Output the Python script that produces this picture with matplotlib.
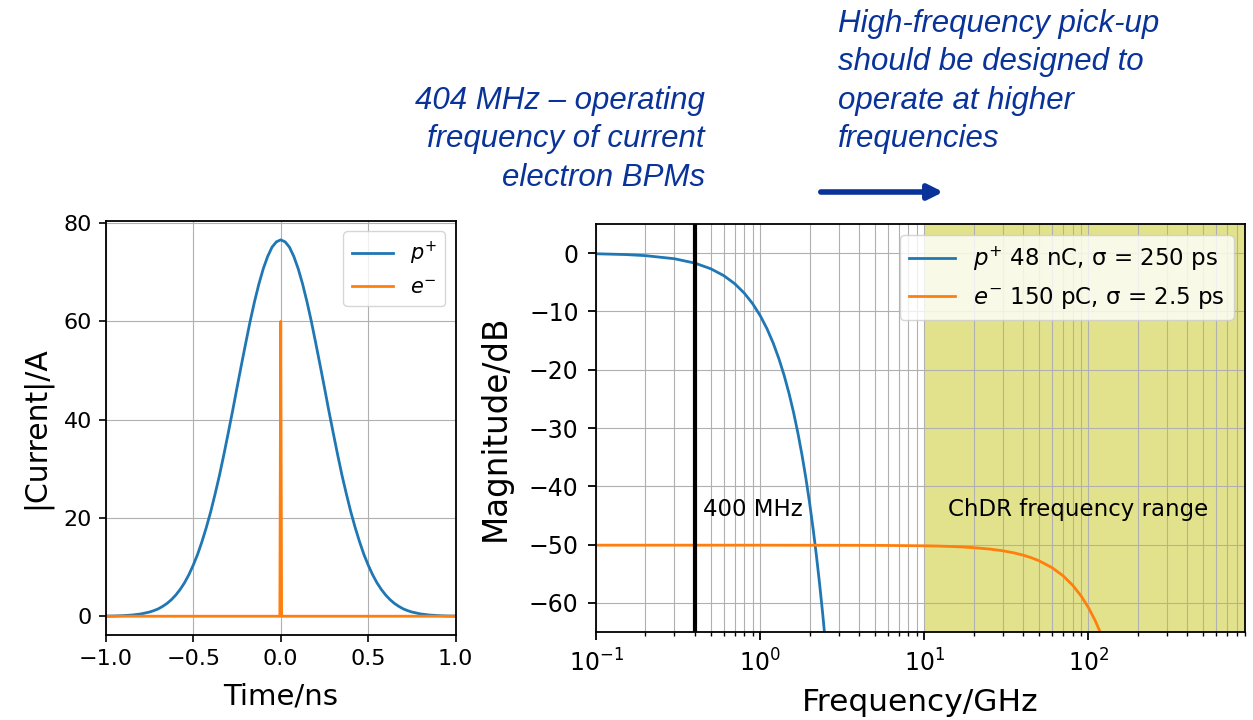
import matplotlib.pyplot as plt
from matplotlib.patches import FancyArrowPatch

# Pulso no tempo (ns) -> corrente (A)
tempo = [-1.0, -0.95, -0.9, -0.85, -0.8, -0.75,
         -0.725, -0.7, -0.675, -0.65, -0.625, -0.6, -0.575, -0.55, -0.525, -0.5,
         -0.475, -0.45, -0.425, -0.4, -0.375, -0.35, -0.325, -0.3, -0.275, -0.25,
         -0.225, -0.2, -0.175, -0.15, -0.125, -0.1, -0.075, -0.05, -0.025, 0.0,
         0.025, 0.05, 0.075, 0.1, 0.125, 0.15, 0.175, 0.2, 0.225, 0.25,
         0.275, 0.3, 0.325, 0.35, 0.375, 0.4, 0.425, 0.45, 0.475, 0.5,
         0.525, 0.55, 0.575, 0.6, 0.625, 0.65, 0.675, 0.7, 0.725,
         0.75, 0.8, 0.85, 0.9, 0.95, 1.0]
corrente_p = [0.03, 0.05, 0.12, 0.24, 0.46, 0.85,
              1.14, 1.5, 2.0, 2.6, 3.36, 4.3, 5.44, 6.8, 8.45, 10.4,
              12.6, 15.2, 18.1, 21.3, 24.9, 28.7, 32.9, 37.3, 41.8, 46.5,
              51.1, 55.6, 60.0, 64.0, 67.6, 70.7, 73.2, 75.1, 76.2, 76.6,
              76.2, 75.1, 73.2, 70.7, 67.6, 64.0, 60.0, 55.6, 51.1, 46.5,
              41.8, 37.3, 32.9, 28.7, 24.9, 21.3, 18.1, 15.2, 12.6, 10.4,
              8.45, 6.8, 5.44, 4.3, 3.36, 2.6, 2.0, 1.5, 1.14,
              0.85, 0.46, 0.24, 0.12, 0.05, 0.03]
tempo_e = [-1.0, -0.005, 0.0, 0.005, 1.0]
corrente_e = [0.0, 0.0, 60.0, 0.0, 0.0]

# Espectro (GHz) -> magnitude (dB)
freq_p = [0.1, 0.15, 0.2, 0.3, 0.4, 0.5, 0.6, 0.7, 0.8, 0.9, 1.0, 1.1, 1.2, 1.3,
          1.4, 1.5, 1.6, 1.7, 1.8, 1.9, 2.0, 2.1, 2.2, 2.3, 2.4, 2.5]
mag_p = [-0.11, -0.24, -0.43, -0.96, -1.71, -2.68, -3.86, -5.25, -6.86, -8.68,
         -10.72, -12.97, -15.43, -18.11, -21.0, -24.11, -27.43, -30.97, -34.72,
         -38.68, -42.86, -47.26, -51.87, -56.69, -61.72, -66.98]
freq_e = [0.1, 1, 5, 10, 12, 15, 17, 20, 25, 30, 35, 40, 45, 50, 60, 70, 80,
          90, 100, 110, 120]
mag_e = [-50.1, -50.1, -50.13, -50.21, -50.25, -50.34, -50.41, -50.53, -50.77,
         -51.06, -51.41, -51.81, -52.27, -52.78, -53.96, -55.35, -56.96, -58.78,
         -60.82, -63.07, -65.53]

azul_texto = '#0a3399'

fig = plt.figure(figsize=(12.53, 7.2), dpi=100)
ax1 = fig.add_axes([0.0844, 0.118, 0.2793, 0.575])
ax2 = fig.add_axes([0.4757, 0.1222, 0.518, 0.5667])

ax1.plot(tempo, corrente_p, label='$p^{+}$', lw=2)
ax1.plot(tempo_e, corrente_e, label='$e^{-}$', lw=2)
ax1.set_xlim(-1, 1)
ax1.set_yticks([0, 20, 40, 60, 80])
ax1.set_xlabel('Time/ns', fontsize=21, labelpad=10)
ax1.set_ylabel('|Current|/A', fontsize=21.5, labelpad=9)
ax1.tick_params(labelsize=16, length=5, width=1.2, pad=5)
ax1.legend(loc='upper right', fontsize=15)
ax1.grid()

ax2.axvspan(10, 1000, color='y', alpha=0.45, lw=0)
ax2.plot(freq_p, mag_p, label='$p^{+}$ 48 nC, σ = 250 ps', lw=2)
ax2.plot(freq_e, mag_e, label='$e^{-}$ 150 pC, σ = 2.5 ps', lw=2)
ax2.axvline(0.4, color='k', lw=3)
ax2.text(0.45, -44, '400 MHz', fontsize=16.5, va='center')
ax2.text(14, -44, 'ChDR frequency range', fontsize=16.5, va='center')
ax2.set_xscale('log')
ax2.set_xlim(0.1, 900)
ax2.set_ylim(-65, 5)
ax2.set_xlabel('Frequency/GHz', fontsize=22.5, labelpad=8)
ax2.set_ylabel('Magnitude/dB', fontsize=23.5, labelpad=12)
ax2.tick_params(labelsize=17, length=5.5, width=1.3, pad=7)
ax2.tick_params(which='minor', length=3.2, width=1.0)
ax2.legend(loc='upper right', fontsize=16.5)
ax2.grid(which='both')

for ax in (ax1, ax2):
    for sp in ax.spines.values():
        sp.set_linewidth(1.3)

fig.text(0.5626, 1 - 86 / 720, '404 MHz – operating\nfrequency of current\nelectron BPMs',
         ha='right', va='top', fontsize=22.5, style='italic', color=azul_texto,
         family='Liberation Sans', linespacing=1.36)
fig.text(0.669, 1 - 9 / 720, 'High-frequency pick-up\nshould be designed to\noperate at higher\nfrequencies',
         ha='left', va='top', fontsize=22.5, style='italic', color=azul_texto,
         family='Liberation Sans', linespacing=1.36)
fig.add_artist(FancyArrowPatch(
    (818 / 1253, 1 - 192 / 720), (946 / 1253, 1 - 192 / 720), transform=fig.transFigure,
    arrowstyle='-|>', lw=4, mutation_scale=22, color=azul_texto))

fig.savefig('out.png', dpi=100)
